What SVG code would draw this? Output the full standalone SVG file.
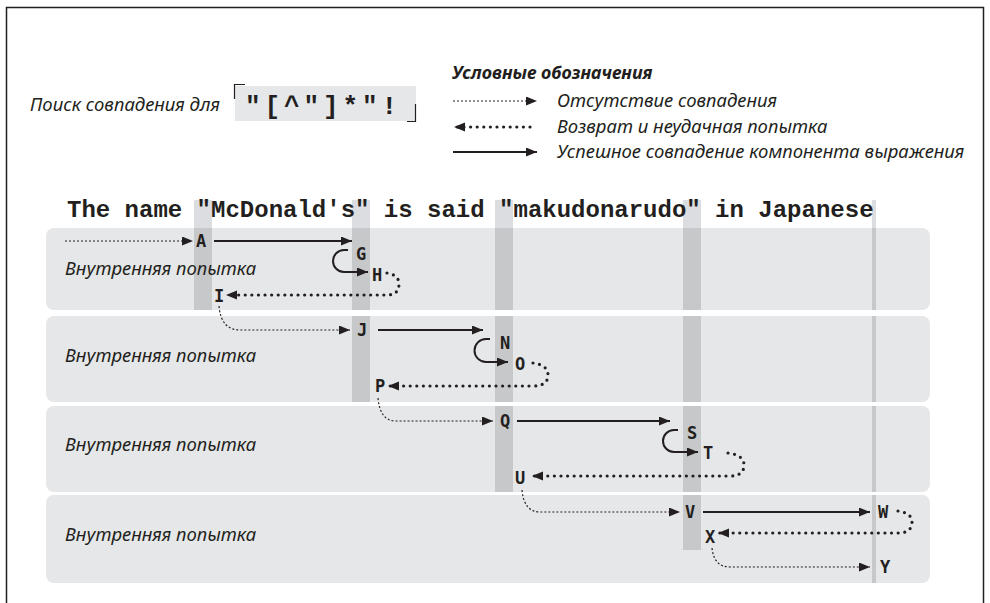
<svg xmlns="http://www.w3.org/2000/svg" width="990" height="603" viewBox="0 0 990 603">
  <style>
    .it { font-family: "Noto Sans", "Open Sans", sans-serif; font-style: italic; font-size: 18.5px; fill: #231f20; }
    .ttl { font-family: "Noto Sans", "Open Sans", sans-serif; font-style: italic; font-weight: bold; font-size: 18px; fill: #231f20; }
    .mono { font-family: "Liberation Mono", "Courier New", monospace; font-weight: bold; font-size: 24px; fill: #231f20; }
    .rx { font-family: "Liberation Mono", "Courier New", monospace; font-weight: bold; font-size: 26px; fill: #231f20; }
    .lbl { font-family: "DejaVu Sans Mono", monospace; font-weight: bold; font-size: 17px; fill: #231f20; }
    .panel { fill: #e6e7e8; }
    .colLight { fill: #dcdde0; }
    .colDark { fill: #c7c8ca; }
    .nomatch { fill: none; stroke: #231f20; stroke-width: 1.2; stroke-dasharray: 2 2; marker-end: url(#head); }
    .back { fill: none; stroke: #231f20; stroke-width: 3.2; stroke-linecap: round; stroke-dasharray: 0 6.6; marker-end: url(#head); }
    .ok { fill: none; stroke: #231f20; stroke-width: 2; marker-end: url(#head); }
  </style>
  <defs>
    <marker id="head" markerUnits="userSpaceOnUse" markerWidth="12" markerHeight="10" refX="11" refY="4.5" orient="auto">
      <path d="M0,0 L11,4.5 L0,9 z" fill="#231f20"/>
    </marker>
  </defs>

  <!-- outer frame -->
  <rect x="6.5" y="7.5" width="977" height="620" fill="#ffffff" stroke="#231f20" stroke-width="1.5"/>

  <!-- search expression -->
  <g id="search">
    <text class="it" x="30" y="111">Поиск совпадения для</text>
    <rect x="235" y="86" width="181" height="35" fill="#e6e7e8"/>
    <path d="M234.5,99 V84.5 H245" fill="none" stroke="#231f20" stroke-width="1.2"/>
    <path d="M415.5,104 V121.5 H407" fill="none" stroke="#231f20" stroke-width="1.2"/>
    <text class="rx" x="245" y="114" letter-spacing="3.9">"[^"]*"!</text>
  </g>

  <!-- legend -->
  <g id="legend">
    <text class="ttl" x="452" y="79">Условные обозначения</text>
    <path class="nomatch" d="M453,101 H537"/>
    <text class="it" x="557" y="107">Отсутствие совпадения</text>
    <path class="back" d="M530,127 H454"/>
    <text class="it" x="557" y="133">Возврат и неудачная попытка</text>
    <path class="ok" d="M453,152 H537"/>
    <text class="it" x="557" y="158">Успешное совпадение компонента выражения</text>
  </g>

  <!-- attempt panels -->
  <g id="panels">
    <rect class="panel" x="46" y="228" width="884" height="82" rx="8"/>
    <rect class="panel" x="46" y="316" width="884" height="86" rx="8"/>
    <rect class="panel" x="46" y="406" width="884" height="86" rx="8"/>
    <rect class="panel" x="46" y="495" width="884" height="88" rx="8"/>
  </g>

  <!-- position markers in the subject string -->
  <g id="columns">
    <rect class="colLight" x="194" y="200" width="18" height="28"/>
    <rect class="colLight" x="352" y="200" width="18" height="28"/>
    <rect class="colLight" x="495" y="200" width="18" height="28"/>
    <rect class="colLight" x="683" y="200" width="18" height="28"/>
    <rect class="colLight" x="872" y="200" width="4" height="28"/>
    <rect class="colDark" x="194" y="228" width="18" height="82"/>
    <rect class="colDark" x="352" y="228" width="18" height="82"/>
    <rect class="colDark" x="352" y="316" width="18" height="86"/>
    <rect class="colDark" x="495" y="228" width="18" height="82"/>
    <rect class="colDark" x="495" y="316" width="18" height="86"/>
    <rect class="colDark" x="495" y="406" width="18" height="86"/>
    <rect class="colDark" x="683" y="228" width="18" height="82"/>
    <rect class="colDark" x="683" y="316" width="18" height="86"/>
    <rect class="colDark" x="683" y="406" width="18" height="86"/>
    <rect class="colDark" x="683" y="495" width="18" height="55"/>
    <rect class="colDark" x="872" y="228" width="4" height="82"/>
    <rect class="colDark" x="872" y="316" width="4" height="86"/>
    <rect class="colDark" x="872" y="406" width="4" height="86"/>
    <rect class="colDark" x="872" y="495" width="4" height="88"/>
  </g>

  <!-- subject string -->
  <text id="subject" class="mono" x="67" y="217" xml:space="preserve">The name "McDonald's" is said "makudonarudo" in Japanese</text>

  <!-- row captions -->
  <g id="captions">
    <text class="it" x="65" y="275">Внутренняя попытка</text>
    <text class="it" x="65" y="362">Внутренняя попытка</text>
    <text class="it" x="65" y="451">Внутренняя попытка</text>
    <text class="it" x="65" y="541">Внутренняя попытка</text>
  </g>

  <!-- connectors -->
  <g id="connectors">
    <!-- attempt 1 -->
    <path class="nomatch" d="M65,241 H193"/>
    <path class="ok" d="M214,241 H352"/>
    <path class="ok" d="M348,250 H344 A11 11 0 0 0 344,272 H368"/>
    <path class="back" d="M387,273 Q399,275 399,284 Q399,295 387,295 H226"/>
    <!-- attempt 2 -->
    <path class="nomatch" d="M219,306 Q221,330 240,330 H350"/>
    <path class="ok" d="M378,330 H483"/>
    <path class="ok" d="M490,339 H486 A11.5 11.5 0 0 0 486,362 H508"/>
    <path class="back" d="M533,363 Q548,365 548,375 Q548,386 533,386 H388"/>
    <!-- attempt 3 -->
    <path class="nomatch" d="M378,398 Q380,421 396,421 H493"/>
    <path class="ok" d="M517,421 H670"/>
    <path class="ok" d="M678,430 H674 A11 11 0 0 0 674,452 H698"/>
    <path class="back" d="M728,453 Q744,455 744,465 Q744,476 730,476 H532"/>
    <!-- attempt 4 -->
    <path class="nomatch" d="M522,490 Q524,512 540,512 H680"/>
    <path class="ok" d="M703,512 H870"/>
    <path class="back" d="M898,511 Q912,513 912,522 Q912,533 898,533 H718"/>
    <path class="nomatch" d="M712,548 Q714,567 730,567 H870"/>
  </g>

  <!-- state labels -->
  <g id="node-A"><text class="lbl" x="196" y="247">A</text></g>
  <g id="node-G"><text class="lbl" x="356" y="260">G</text></g>
  <g id="node-H"><text class="lbl" x="372" y="281">H</text></g>
  <g id="node-I"><text class="lbl" x="214" y="302">I</text></g>
  <g id="node-J"><text class="lbl" x="357" y="336">J</text></g>
  <g id="node-N"><text class="lbl" x="500" y="349">N</text></g>
  <g id="node-O"><text class="lbl" x="515" y="370">O</text></g>
  <g id="node-P"><text class="lbl" x="375" y="392">P</text></g>
  <g id="node-Q"><text class="lbl" x="500" y="427">Q</text></g>
  <g id="node-S"><text class="lbl" x="687" y="439">S</text></g>
  <g id="node-T"><text class="lbl" x="703" y="459">T</text></g>
  <g id="node-U"><text class="lbl" x="515" y="484">U</text></g>
  <g id="node-V"><text class="lbl" x="685" y="518">V</text></g>
  <g id="node-W"><text class="lbl" x="878" y="518">W</text></g>
  <g id="node-X"><text class="lbl" x="705" y="543">X</text></g>
  <g id="node-Y"><text class="lbl" x="880" y="573">Y</text></g>
</svg>
